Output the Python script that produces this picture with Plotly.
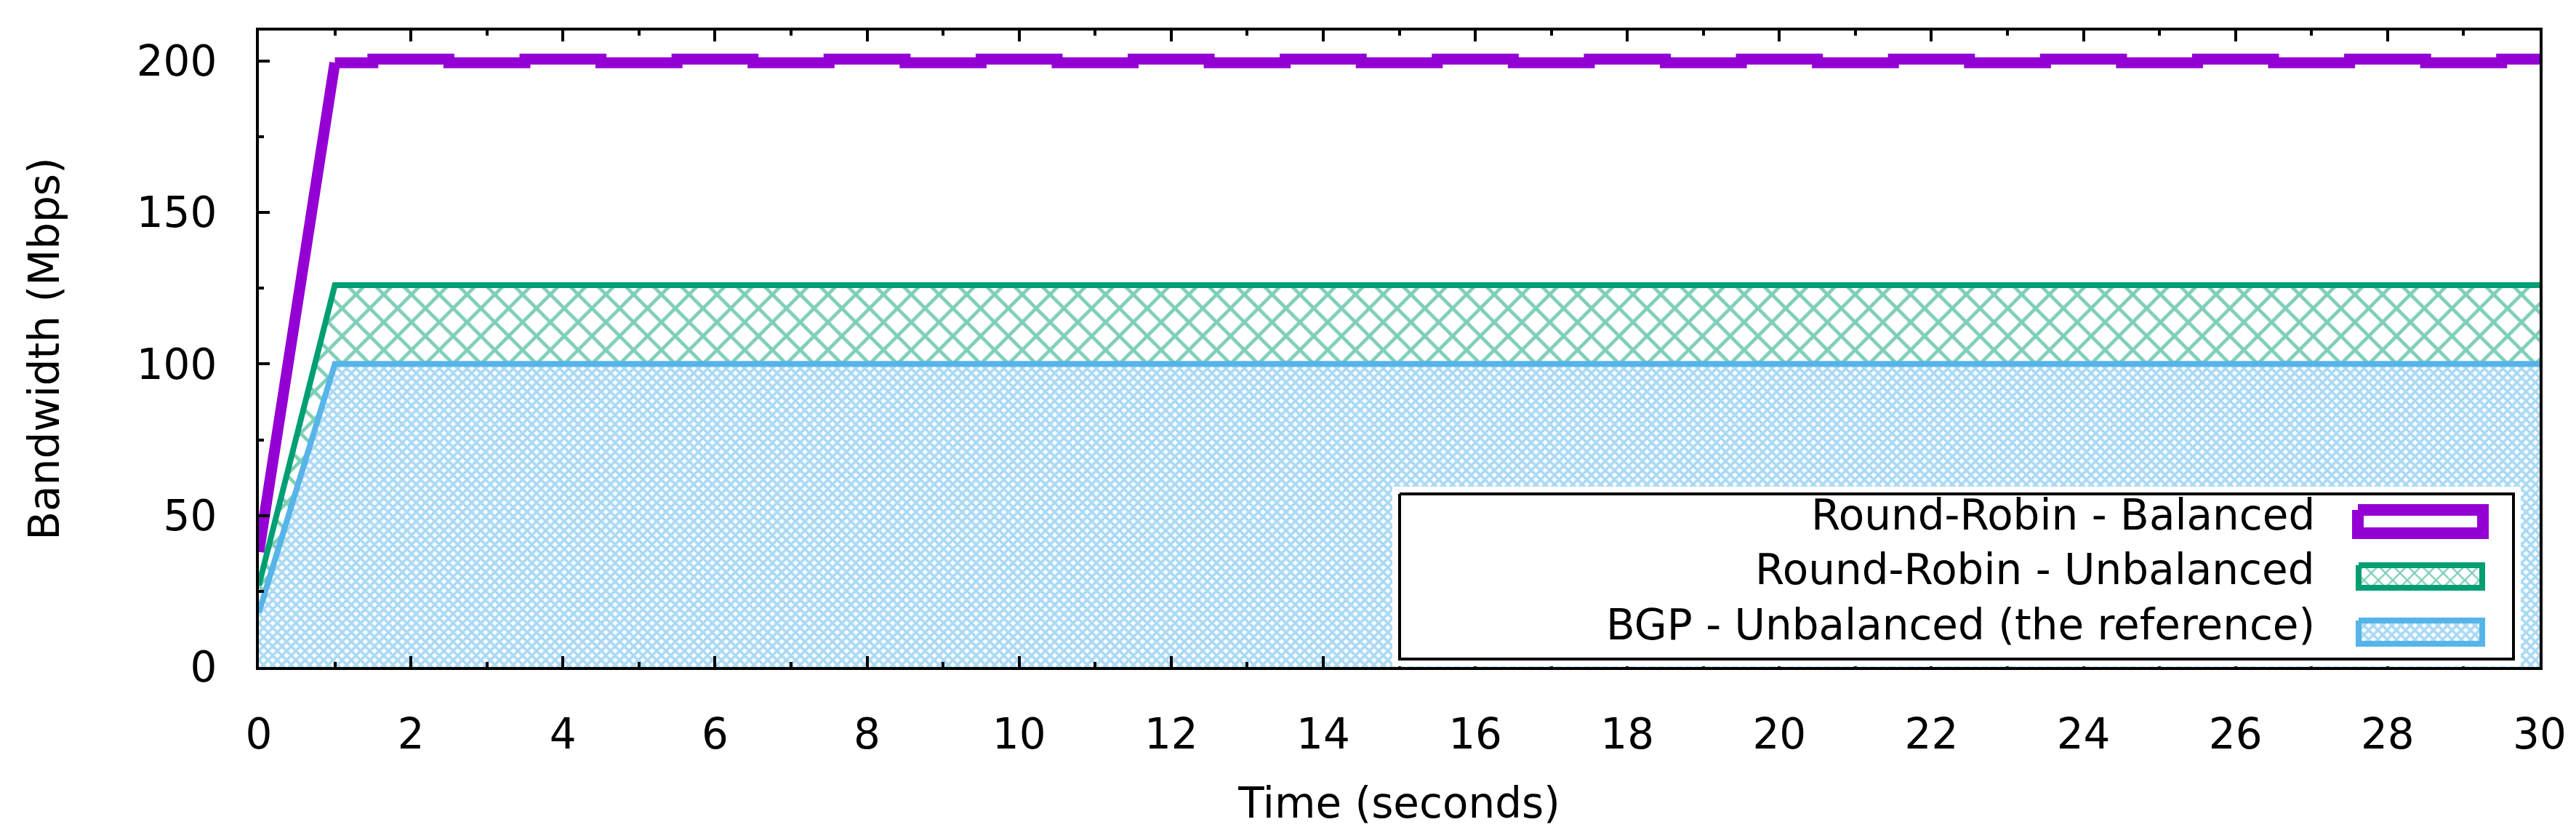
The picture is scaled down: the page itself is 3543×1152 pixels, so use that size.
import plotly.graph_objects as go

# data
bal_ramp_t = [0, 1]
bal_ramp_v = [38, 199.4]
bal_t = [1, 2, 3, 4, 5, 6, 7, 8, 9, 10, 11, 12, 13, 14, 15,
         16, 17, 18, 19, 20, 21, 22, 23, 24, 25, 26, 27, 28, 29, 30]
bal_v = [199.4, 200.6, 199.4, 200.6, 199.4, 200.6, 199.4, 200.6, 199.4, 200.6,
         199.4, 200.6, 199.4, 200.6, 199.4, 200.6, 199.4, 200.6, 199.4, 200.6,
         199.4, 200.6, 199.4, 200.6, 199.4, 200.6, 199.4, 200.6, 199.4, 200.6]

unbal_t = [0, 1, 30]
unbal_v = [27, 126, 126]

bgp_t = [0, 1, 30]
bgp_v = [18, 100, 100]

names = ["Round-Robin - Balanced",
         "Round-Robin - Unbalanced",
         "BGP - Unbalanced (the reference)"]

PURPLE = "#9400d3"
GREEN = "#009e73"
BLUE = "#56b4e9"
FONT = "DejaVu Sans"
FS = 58

W, H = 3543, 1152
PL, PR, PT, PB = 348, 3485, 34, 909  # plot area in screen px

green_pat = dict(shape="x", fgcolor=GREEN, bgcolor="white", size=27, solidity=0.32)
blue_pat = dict(shape="x", fgcolor=BLUE, bgcolor="white", size=9, solidity=0.65)

fig = go.Figure()

fig.add_trace(go.Scatter(
    x=unbal_t, y=unbal_v, mode="lines", fill="tozeroy",
    line=dict(color=GREEN, width=8), fillpattern=green_pat, showlegend=False))
fig.add_trace(go.Scatter(
    x=bgp_t, y=bgp_v, mode="lines", fill="tozeroy",
    line=dict(color=BLUE, width=8), fillpattern=blue_pat, showlegend=False))
fig.add_trace(go.Scatter(
    x=bal_ramp_t, y=bal_ramp_v, mode="lines",
    line=dict(color=PURPLE, width=15), showlegend=False))
fig.add_trace(go.Scatter(
    x=bal_t, y=bal_v, mode="lines",
    line=dict(color=PURPLE, width=15, shape="hvh"), showlegend=False))

# hand-made key box, drawn on its own axes in screen pixels
LX0, LX1, LY0, LY1 = 1917, 3449, 671, 898
pad = 10


def paper_x(px):
    return (px - PL) / (PR - PL)


def paper_y(py):
    return (PB - py) / (PB - PT)


fig.add_trace(go.Scatter(
    x=[LX0, LX1, LX1, LX0, LX0], y=[LY0, LY0, LY1, LY1, LY0],
    mode="lines", fill="toself", fillcolor="white",
    line=dict(color="black", width=4),
    xaxis="x2", yaxis="y2", showlegend=False, hoverinfo="skip"))

swatches = [
    (3235, 3407, 693, 725, PURPLE, 16, None),
    (3236, 3406, 769, 800, GREEN, 8, dict(green_pat, size=14, solidity=0.3)),
    (3236, 3406, 845, 877, BLUE, 8, blue_pat),
]
for x0, x1, y0, y1, col, lw, pat in swatches:
    kw = dict(fillpattern=pat) if pat else dict(fillcolor="white")
    fig.add_trace(go.Scatter(
        x=[x0, x1, x1, x0, x0], y=[y0, y0, y1, y1, y0],
        mode="lines", fill="toself", line=dict(color=col, width=lw),
        xaxis="x2", yaxis="y2", showlegend=False, hoverinfo="skip", **kw))

row_y = [700, 775, 851]
for name, ry in zip(names, row_y):
    fig.add_annotation(x=3178, y=ry, xref="x2", yref="y2", text=name,
                       xanchor="right", yanchor="middle", showarrow=False,
                       font=dict(family=FONT, size=FS, color="black"))

axis_common = dict(
    showgrid=False, zeroline=False, showline=True, linecolor="black", linewidth=4,
    ticks="inside", ticklen=15, tickwidth=4, tickcolor="black",
    tickfont=dict(family=FONT, size=FS, color="black"),
)

fig.update_layout(
    width=W, height=H,
    margin=dict(l=PL, r=W - PR, t=PT, b=H - PB),
    plot_bgcolor="white", paper_bgcolor="white",
    xaxis=dict(range=[0, 30], dtick=2, tick0=0, mirror="ticks",
               minor=dict(dtick=1, ticks="inside", ticklen=7, tickwidth=4, tickcolor="black"),
               ticklabelstandoff=38,
               title=dict(text="Time (seconds)", font=dict(family=FONT, size=FS, color="black"),
                          standoff=43),
               **axis_common),
    yaxis=dict(range=[0, 210], dtick=50, tick0=0, mirror=True,
               minor=dict(dtick=25, ticks="inside", ticklen=7, tickwidth=4, tickcolor="black"),
               ticklabelstandoff=42,
               title=dict(text="Bandwidth (Mbps)", font=dict(family=FONT, size=FS, color="black"),
                          standoff=88),
               **axis_common),
    xaxis2=dict(domain=[paper_x(LX0 - pad), paper_x(LX1 + pad)],
                range=[LX0 - pad, LX1 + pad], visible=False, anchor="y2"),
    yaxis2=dict(domain=[paper_y(LY1 + pad), paper_y(LY0 - pad)],
                range=[LY1 + pad, LY0 - pad], visible=False, anchor="x2"),
)

fig.write_html("out.html")
